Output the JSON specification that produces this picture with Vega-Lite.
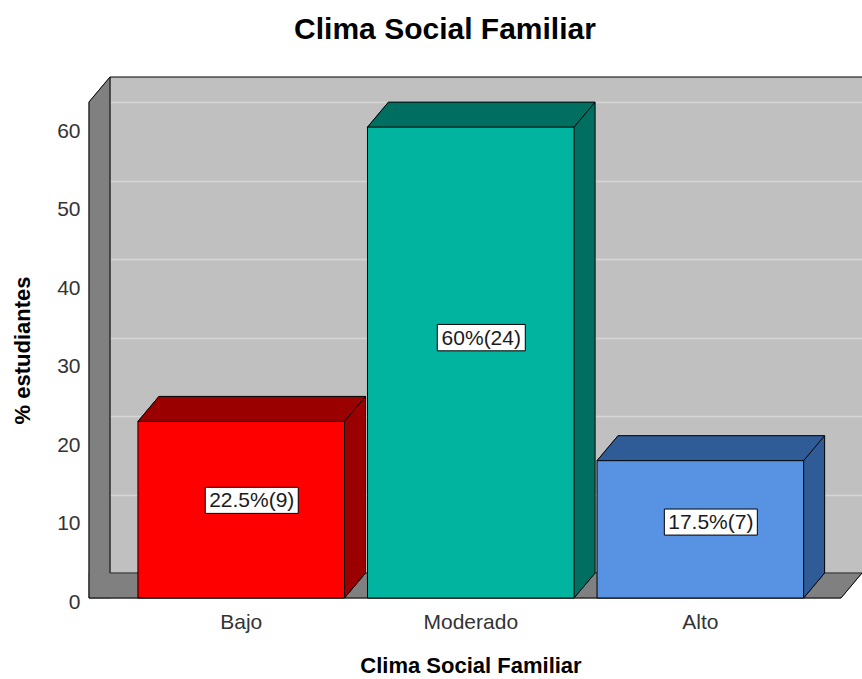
{
  "$schema": "https://vega.github.io/schema/vega-lite/v6.json",
  "width": 752,
  "height": 496,
  "autosize": {"type": "none"},
  "padding": {"left": 110, "top": 77, "right": 0, "bottom": 106},
  "background": "#FFFFFF",
  "view": {"fill": "#C0C0C0", "stroke": null},
  "title": {"text": "Clima Social Familiar", "font": "Liberation Sans", "fontSize": 30, "fontWeight": "bold", "color": "#000000", "anchor": "middle", "frame": "group", "dx": -41, "offset": 30},
  "config": {"font": "Liberation Sans"},
  "data": {"values": [
    {"cat": "Bajo", "pct": 22.5, "n": 9, "label": "22.5%(9)"},
    {"cat": "Moderado", "pct": 60, "n": 24, "label": "60%(24)"},
    {"cat": "Alto", "pct": 17.5, "n": 7, "label": "17.5%(7)"}
  ]},
  "resolve": {"scale": {"y": "independent"}},
  "layer": [
    {"layer": [
      {"data": {"values": [{}]}, "mark": {"type": "rect", "fill": "#808080", "stroke": "#808080", "strokeWidth": 1, "xOffset": -21, "yOffset": 25, "y2Offset": 25},
       "encoding": {"x": {"value": 0}, "x2": {"value": 0}, "y": {"datum": 63.2, "type": "quantitative"}, "y2": {"datum": 0}}},
      {"data": {"values": [{}]}, "mark": {"type": "point", "shape": "M0,0L0,1L-0.84,1Z", "size": 2500, "filled": true, "fill": "#808080", "stroke": "#808080", "strokeWidth": 1, "opacity": 1},
       "encoding": {"x": {"value": 0}, "y": {"datum": 63.2, "type": "quantitative"}}},
      {"data": {"values": [{}]}, "mark": {"type": "rect", "fill": "#808080", "stroke": "#808080", "strokeWidth": 1, "xOffset": -21, "x2Offset": -21, "y2Offset": 25},
       "encoding": {"x": {"value": 0}, "x2": {"value": "width"}, "y": {"datum": 0, "type": "quantitative"}, "y2": {"datum": 0}}},
      {"data": {"values": [{}]}, "mark": {"type": "point", "shape": "M0,0L-0.84,0L-0.84,1Z", "size": 2500, "filled": true, "fill": "#808080", "stroke": "#808080", "strokeWidth": 1, "opacity": 1},
       "encoding": {"x": {"value": "width"}, "y": {"datum": 0, "type": "quantitative"}}},
      {"data": {"values": [{}]}, "mark": {"type": "rule", "color": "#000000", "strokeWidth": 1},
       "encoding": {"x": {"value": 0}, "x2": {"value": "width"}, "y": {"datum": 63.2, "type": "quantitative"}}},
      {"data": {"values": [{}]}, "mark": {"type": "rule", "color": "#000000", "strokeWidth": 1},
       "encoding": {"x": {"value": 0}, "y": {"datum": 63.2, "type": "quantitative"}, "y2": {"datum": 0}}},
      {"data": {"values": [{}]}, "mark": {"type": "rule", "color": "#333333", "strokeWidth": 1},
       "encoding": {"x": {"value": 0}, "x2": {"value": "width"}, "y": {"datum": 0, "type": "quantitative"}}},
      {"data": {"values": [{}]}, "mark": {"type": "rule", "color": "#000000", "strokeWidth": 1, "xOffset": -21, "yOffset": 25, "y2Offset": 25},
       "encoding": {"x": {"value": 0}, "y": {"datum": 63.2, "type": "quantitative"}, "y2": {"datum": 0}}},
      {"data": {"values": [{}]}, "mark": {"type": "rule", "color": "#000000", "strokeWidth": 1, "xOffset": -21, "yOffset": 25},
       "encoding": {"x": {"value": 0}, "x2": {"value": 0}, "y": {"datum": 63.2, "type": "quantitative"}, "y2": {"datum": 63.2}}},
      {"data": {"values": [{}]}, "mark": {"type": "rule", "color": "#000000", "strokeWidth": 1, "xOffset": -21, "x2Offset": -21, "yOffset": 25},
       "encoding": {"x": {"value": 0}, "x2": {"value": "width"}, "y": {"datum": 0, "type": "quantitative"}}},
      {"data": {"values": [{}]}, "mark": {"type": "rule", "color": "#000000", "strokeWidth": 1, "x2Offset": -21, "y2Offset": 25},
       "encoding": {"x": {"value": "width"}, "x2": {"value": "width"}, "y": {"datum": 0, "type": "quantitative"}, "y2": {"datum": 0}}},

      {"mark": {"type": "bar"},
       "encoding": {
         "x": {"field": "cat", "type": "nominal", "sort": ["Bajo", "Moderado", "Alto"], "title": "Clima Social Familiar",
               "scale": {"paddingInner": 0.1, "paddingOuter": 0.188, "align": 0.567},
               "axis": {"labelAngle": 0, "labelOffset": -21, "labelPadding": 38, "ticks": false, "domain": false, "grid": false,
                        "labelFont": "Liberation Sans", "labelFontSize": 21, "labelColor": "#333333",
                        "titleFont": "Liberation Sans", "titleFontSize": 22, "titleFontWeight": "bold", "titleColor": "#000000", "titlePadding": 23, "titleX": 360.5}},
         "y": {"field": "pct", "type": "quantitative", "title": "% estudiantes", "scale": {"domain": [0, 63.2], "nice": false, "zero": true},
               "axis": {"values": [0, 10, 20, 30, 40, 50, 60], "grid": true,
                        "gridColor": {"condition": {"test": "datum.value === 0", "value": "transparent"}, "value": "#D6D6D6"},
                        "gridWidth": 1.5, "ticks": false, "domain": false, "labelOffset": 29, "labelPadding": 30,
                        "labelFont": "Liberation Sans", "labelFontSize": 21, "labelColor": "#333333",
                        "titleFont": "Liberation Sans", "titleFontSize": 22, "titleFontWeight": "bold", "titleColor": "#000000", "titlePadding": 22, "titleY": 273}},
         "y2": {"datum": 0},
         "color": {"field": "cat", "type": "nominal", "scale": {"domain": ["Bajo", "Moderado", "Alto"], "range": ["#9A0000", "#006E60", "#2F5B96"]}, "legend": null}
       }},
      {"mark": {"type": "point", "shape": "M0,0L0,1L-0.84,1Z", "size": 2500, "filled": true, "strokeWidth": 1, "opacity": 1},
       "encoding": {
         "x": {"field": "cat", "type": "nominal", "sort": ["Bajo", "Moderado", "Alto"], "title": "Clima Social Familiar", "bandPosition": 0},
         "y": {"field": "pct", "type": "quantitative", "title": "% estudiantes"},
         "color": {"field": "cat", "type": "nominal", "scale": {"domain": ["Bajo", "Moderado", "Alto"], "range": ["#9A0000", "#006E60", "#2F5B96"]}, "legend": null},
         "stroke": {"field": "cat", "type": "nominal", "scale": {"domain": ["Bajo", "Moderado", "Alto"], "range": ["#9A0000", "#006E60", "#2F5B96"]}, "legend": null}
       }},
      {"mark": {"type": "point", "shape": "M0,0L-0.84,0L-0.84,1Z", "size": 2500, "filled": true, "strokeWidth": 1, "opacity": 1},
       "encoding": {
         "x": {"field": "cat", "type": "nominal", "sort": ["Bajo", "Moderado", "Alto"], "title": "Clima Social Familiar", "bandPosition": 1},
         "y": {"datum": 0, "type": "quantitative"},
         "color": {"field": "cat", "type": "nominal", "scale": {"domain": ["Bajo", "Moderado", "Alto"], "range": ["#9A0000", "#006E60", "#2F5B96"]}, "legend": null},
         "stroke": {"field": "cat", "type": "nominal", "scale": {"domain": ["Bajo", "Moderado", "Alto"], "range": ["#9A0000", "#006E60", "#2F5B96"]}, "legend": null}
       }},
      {"mark": {"type": "bar", "stroke": "#000000", "strokeWidth": 1, "xOffset": -21, "yOffset": 25, "y2Offset": 25},
       "encoding": {
         "x": {"field": "cat", "type": "nominal", "sort": ["Bajo", "Moderado", "Alto"], "title": "Clima Social Familiar"},
         "y": {"field": "pct", "type": "quantitative", "title": "% estudiantes"},
         "y2": {"datum": 0},
         "fill": {"field": "cat", "type": "nominal", "scale": {"domain": ["Bajo", "Moderado", "Alto"], "range": ["#FF0000", "#00B4A0", "#5892E3"]}, "legend": null}
       }},
      {"mark": {"type": "rule", "color": "#000000", "strokeWidth": 1},
       "encoding": {
         "x": {"field": "cat", "type": "nominal", "sort": ["Bajo", "Moderado", "Alto"], "title": "Clima Social Familiar", "bandPosition": 0},
         "x2": {"field": "cat", "bandPosition": 1},
         "y": {"field": "pct", "type": "quantitative", "title": "% estudiantes"}
       }},
      {"mark": {"type": "rule", "color": "#000000", "strokeWidth": 1},
       "encoding": {
         "x": {"field": "cat", "type": "nominal", "sort": ["Bajo", "Moderado", "Alto"], "title": "Clima Social Familiar", "bandPosition": 1},
         "y": {"field": "pct", "type": "quantitative", "title": "% estudiantes"},
         "y2": {"datum": 0}
       }},
      {"mark": {"type": "rule", "color": "#000000", "strokeWidth": 1, "x2Offset": -21, "y2Offset": 25},
       "encoding": {
         "x": {"field": "cat", "type": "nominal", "sort": ["Bajo", "Moderado", "Alto"], "title": "Clima Social Familiar", "bandPosition": 0},
         "x2": {"field": "cat", "bandPosition": 0},
         "y": {"field": "pct", "type": "quantitative", "title": "% estudiantes"},
         "y2": {"field": "pct"}
       }},
      {"mark": {"type": "rule", "color": "#000000", "strokeWidth": 1, "x2Offset": -21, "y2Offset": 25},
       "encoding": {
         "x": {"field": "cat", "type": "nominal", "sort": ["Bajo", "Moderado", "Alto"], "title": "Clima Social Familiar", "bandPosition": 1},
         "x2": {"field": "cat", "bandPosition": 1},
         "y": {"field": "pct", "type": "quantitative", "title": "% estudiantes"},
         "y2": {"field": "pct"}
       }},
      {"mark": {"type": "rule", "color": "#000000", "strokeWidth": 1, "x2Offset": -21, "y2Offset": 25},
       "encoding": {
         "x": {"field": "cat", "type": "nominal", "sort": ["Bajo", "Moderado", "Alto"], "title": "Clima Social Familiar", "bandPosition": 1},
         "x2": {"field": "cat", "bandPosition": 1},
         "y": {"datum": 0, "type": "quantitative"},
         "y2": {"datum": 0}
       }}
    ]},
    {"layer": [
      {"transform": [{"filter": "length(datum.label) == 8"}],
       "mark": {"type": "point", "shape": "M-1,-0.28L1,-0.28L1,0.28L-1,0.28Z", "size": 8649, "filled": true, "fill": "#FFFFFF", "stroke": "#000000", "strokeWidth": 1, "opacity": 1, "xOffset": -10.5, "yOffset": 25},
       "encoding": {
         "x": {"field": "cat", "type": "nominal", "sort": ["Bajo", "Moderado", "Alto"], "title": "Clima Social Familiar"},
         "y": {"field": "pct", "type": "quantitative", "scale": {"domain": [0, 114.3], "nice": false}, "axis": null}
       }},
      {"transform": [{"filter": "length(datum.label) != 8"}],
       "mark": {"type": "point", "shape": "M-1,-0.3L1,-0.3L1,0.3L-1,0.3Z", "size": 7744, "filled": true, "fill": "#FFFFFF", "stroke": "#000000", "strokeWidth": 1, "opacity": 1, "xOffset": -10.5, "yOffset": 25},
       "encoding": {
         "x": {"field": "cat", "type": "nominal", "sort": ["Bajo", "Moderado", "Alto"], "title": "Clima Social Familiar"},
         "y": {"field": "pct", "type": "quantitative", "scale": {"domain": [0, 114.3], "nice": false}, "axis": null}
       }},
      {"mark": {"type": "text", "font": "Liberation Sans", "fontSize": 21, "color": "#1A1A1A", "align": "center", "baseline": "middle", "xOffset": -10.5, "yOffset": 26},
       "encoding": {
         "x": {"field": "cat", "type": "nominal", "sort": ["Bajo", "Moderado", "Alto"], "title": "Clima Social Familiar"},
         "y": {"field": "pct", "type": "quantitative", "scale": {"domain": [0, 114.3], "nice": false}, "axis": null},
         "text": {"field": "label", "type": "nominal"}
       }}
    ]}
  ]
}
